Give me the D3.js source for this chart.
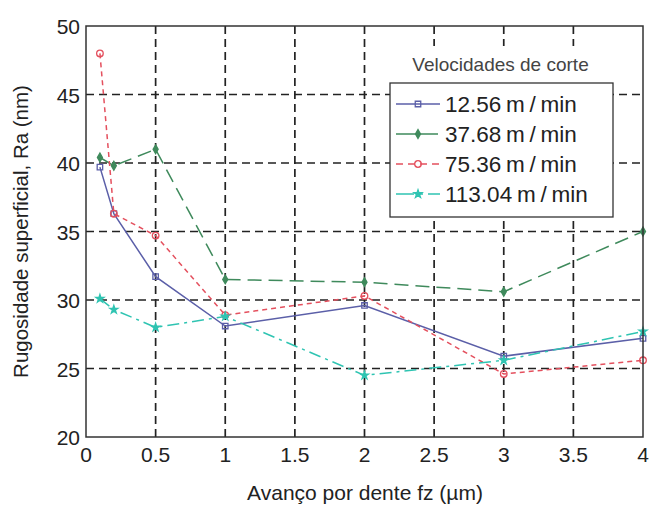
<!DOCTYPE html>
<html>
<head>
<meta charset="utf-8">
<script src="https://cdn.jsdelivr.net/npm/d3@7"></script>
<style>
  body { margin: 0; background: #fff; }
  svg { display: block; font-family: "Liberation Sans", Arial, sans-serif; }
</style>
</head>
<body>
<div id="chart"></div>
<script>
// feed per tooth (µm)
const feeds = [0.1, 0.2, 0.5, 1, 2, 3, 4];
const seriesNames = ["12.56 m / min", "37.68 m / min", "75.36 m / min", "113.04 m / min"];
const ra12 = [39.7, 36.3, 31.7, 28.1, 29.6, 25.9, 27.2];
const ra37 = [40.4, 39.8, 41.0, 31.5, 31.3, 30.6, 35.0];
const ra75 = [48.0, 36.3, 34.7, 28.9, 30.3, 24.6, 25.6];
const ra113 = [30.1, 29.3, 28.0, 28.8, 24.5, 25.6, 27.7];
const xTicks = [0, 0.5, 1, 1.5, 2, 2.5, 3, 3.5, 4];
const yTicks = [20, 25, 30, 35, 40, 45, 50];

const width = 651, height = 508;
const m = {left: 86, right: 8, top: 26, bottom: 71};

const svg = d3.select("#chart").append("svg")
    .attr("width", width).attr("height", height);

const x = d3.scaleLinear().domain([0, 4]).range([m.left, width - m.right]);
const y = d3.scaleLinear().domain([20, 50]).range([height - m.bottom, m.top]);

// grid
const grid = svg.append("g").attr("stroke", "#222").attr("stroke-width", 1.7)
    .attr("stroke-dasharray", "8,5");
grid.selectAll("line.v").data(xTicks.slice(1, -1)).join("line")
    .attr("x1", d => x(d)).attr("x2", d => x(d))
    .attr("y1", y(20)).attr("y2", y(50));
grid.selectAll("line.h").data(yTicks.slice(1, -1)).join("line")
    .attr("x1", x(0)).attr("x2", x(4))
    .attr("y1", d => y(d)).attr("y2", d => y(d));

// series styles
const styles = [
    {data: ra12,  color: "#5b5fa8", dash: null,       legDash: null,        marker: "square"},
    {data: ra37,  color: "#3f8a5c", dash: "14,7",     legDash: "20,2",      marker: "diamond"},
    {data: ra75,  color: "#e4505e", dash: "5,4",      legDash: "7,5",       marker: "circle"},
    {data: ra113, color: "#2fc4b2", dash: "12,5,3,5", legDash: "18,5,4,5",  marker: "star"}
];

const symbolFor = {
    square: d3.symbolSquare, diamond: d3.symbolDiamond,
    circle: d3.symbolCircle, star: d3.symbolStar
};
const symbolSize = {square: 30, diamond: 22, circle: 34, star: 20};

const line = d3.line().x(d => x(d[0])).y(d => y(d[1]));

function drawMarker(g, s, px, py) {
    const filled = s.marker === "diamond" || s.marker === "star";
    g.append("path")
        .attr("d", d3.symbol().type(symbolFor[s.marker]).size(symbolSize[s.marker])())
        .attr("transform", `translate(${px},${py})`)
        .attr("fill", filled ? s.color : "none")
        .attr("stroke", s.color).attr("stroke-width", 1.3);
}

styles.forEach(s => {
    const pts = feeds.map((f, i) => [f, s.data[i]]);
    const g = svg.append("g");
    g.append("path").attr("d", line(pts))
        .attr("fill", "none").attr("stroke", s.color).attr("stroke-width", 1.5)
        .attr("stroke-dasharray", s.dash);
    pts.forEach(p => drawMarker(g, s, x(p[0]), y(p[1])));
});

// frame
svg.append("rect")
    .attr("x", x(0)).attr("y", y(50))
    .attr("width", x(4) - x(0)).attr("height", y(20) - y(50))
    .attr("fill", "none").attr("stroke", "#333").attr("stroke-width", 1.5);

// tick labels
svg.append("g").selectAll("text").data(xTicks).join("text")
    .attr("x", d => x(d)).attr("y", y(20) + 25)
    .attr("text-anchor", "middle").style("font-size", "21px").style("fill", "#222")
    .text(d => d);
svg.append("g").selectAll("text").data(yTicks).join("text")
    .attr("x", x(0) - 6).attr("y", d => y(d) + 8)
    .attr("text-anchor", "end").style("font-size", "21px").style("fill", "#222")
    .text(d => d);

// axis titles
svg.append("text").attr("x", 365).attr("y", 500)
    .attr("text-anchor", "middle").style("font-size", "21px").style("fill", "#222")
    .text("Avanço por dente fz (µm)");
svg.append("text").attr("transform", `translate(28,${(y(20) + y(50)) / 2}) rotate(-90)`)
    .attr("text-anchor", "middle").style("font-size", "20.5px").style("fill", "#222")
    .text("Rugosidade superficial, Ra (nm)");

// legend
const lx = 390, ly = 83, lw = 223, lh = 134;
svg.append("rect").attr("x", lx).attr("y", 46).attr("width", lw).attr("height", lh + 37)
    .attr("fill", "#fff");
svg.append("text").attr("x", lx + lw / 2 - 1).attr("y", 71)
    .attr("text-anchor", "middle").style("font-size", "19px").style("fill", "#444")
    .text("Velocidades de corte");
svg.append("rect").attr("x", lx).attr("y", ly).attr("width", lw).attr("height", lh)
    .attr("fill", "#fff").attr("stroke", "#333").attr("stroke-width", 1.3);

styles.forEach((s, i) => {
    const ry = ly + 21 + i * 30;
    const g = svg.append("g");
    g.append("line").attr("x1", lx + 6).attr("x2", lx + 50)
        .attr("y1", ry).attr("y2", ry)
        .attr("stroke", s.color).attr("stroke-width", 1.5)
        .attr("stroke-dasharray", s.legDash);
    drawMarker(g, s, lx + 28, ry);
    g.append("text").attr("x", lx + 55).attr("y", ry + 8)
        .style("font-size", "22.5px").style("word-spacing", "-1.5px").style("fill", "#222")
        .text(seriesNames[i]);
});
</script>
</body>
</html>
